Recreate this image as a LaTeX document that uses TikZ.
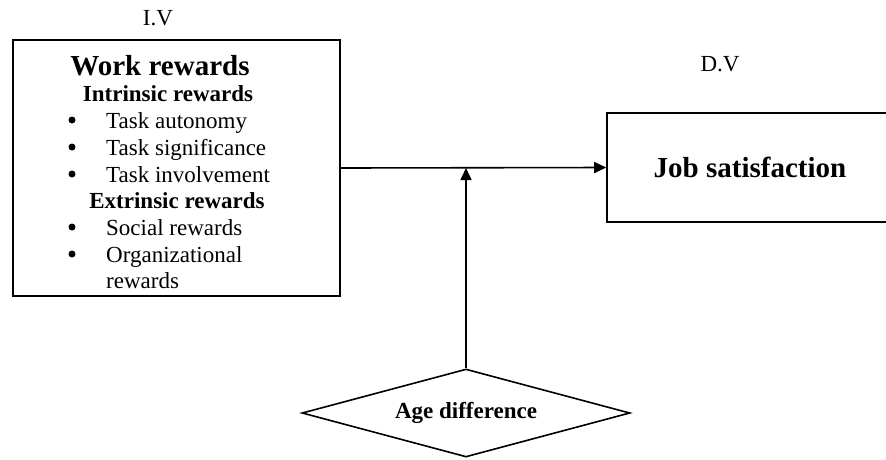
\documentclass[tikz,border=0pt]{standalone}
\usepackage{fontspec}
\setmainfont{Liberation Serif}
\usetikzlibrary{shapes.geometric,arrows.meta}
\begin{document}
\begin{tikzpicture}[x=1pt,y=-1pt,var box/.style={draw, line width=1.6pt, inner sep=0pt},title text/.style={font=\fontsize{29}{34}\selectfont\bfseries, anchor=base, inner sep=0pt},head text/.style={font=\fontsize{23}{27}\selectfont\bfseries, anchor=base, inner sep=0pt},item text/.style={font=\fontsize{23}{27}\selectfont, anchor=base west, inner sep=0pt},bullet mark/.style={circle, fill, inner sep=0pt, minimum size=7pt},level text/.style={font=\fontsize{23}{27}\selectfont, anchor=base, inner sep=0pt},link/.style={line width=1.6pt, -{Triangle[length=12pt,width=11pt]}}]%
\useasboundingbox (0,0) rectangle (886,459);%
  % Levels%
\node[level text] (iv) at (158,25) {I.V};%
\node[level text] (dv) at (720,71) {D.V};%
  % Work rewards%
\node[var box, minimum width=327pt, minimum height=256pt] (wr) at (176.5,168) {};%
\node[title text] (wrtitle) at (160,75) {Work rewards};%
\node[head text] (intr) at (168,101) {Intrinsic rewards};%
\node[bullet mark] (b1) at (72,120) {};%
\node[item text] (autonomy) at (106,128) {Task autonomy};%
\node[bullet mark] (b2) at (72,147) {};%
\node[item text] (significance) at (106,155) {Task significance};%
\node[bullet mark] (b3) at (72,174) {};%
\node[item text] (involvement) at (106,182) {Task involvement};%
\node[head text] (extr) at (177,208) {Extrinsic rewards};%
\node[bullet mark] (b4) at (72,227) {};%
\node[item text] (social) at (106,235) {Social rewards};%
\node[bullet mark] (b5) at (72,254) {};%
\node[item text] (organizational) at (106,262) {Organizational};%
\node[item text] (organizational2) at (106,288) {rewards};%
  % Job satisfaction%
\node[var box, font=\fontsize{29}{34}\selectfont\bfseries, minimum width=286pt, minimum height=109pt] (js) at (750,167.5) {Job satisfaction};%
  % Age difference%
\node[draw, line width=1.6pt, diamond, aspect=3.7, inner sep=0pt, minimum width=328pt, minimum height=88pt, font=\fontsize{23}{27}\selectfont\bfseries] (ad) at (466,413) {Age difference};%
\draw[link] (wr.east) -- (js.west);%
\draw[link] (ad.north) -- (ad.north |- wr.east);%
\end{tikzpicture}
\end{document}
